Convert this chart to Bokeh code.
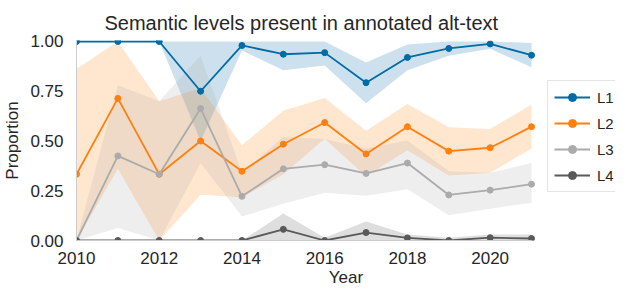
from bokeh.plotting import figure
from bokeh.models import FixedTicker, PrintfTickFormatter, Legend, LegendItem, ColumnDataSource, Range1d
from bokeh.embed import file_html
from bokeh.resources import INLINE

years = [2010, 2011, 2012, 2013, 2014, 2015, 2016, 2017, 2018, 2019, 2020, 2021]

l1 = [1.0, 1.0, 1.0, 0.75, 0.98, 0.936, 0.944, 0.793, 0.92, 0.965, 0.988, 0.931]
l1_lo = [1.0, 1.0, 1.0, 0.5, 0.955, 0.855, 0.88, 0.69, 0.855, 0.928, 0.964, 0.87]
l1_hi = [1.0, 1.0, 1.0, 1.0, 1.0, 1.0, 1.0, 0.895, 0.985, 1.0, 1.0, 0.993]

l2 = [0.333, 0.714, 0.333, 0.5, 0.348, 0.484, 0.593, 0.435, 0.572, 0.449, 0.466, 0.572]
l2_lo = [0.0, 0.36, 0.0, 0.23, 0.217, 0.333, 0.511, 0.323, 0.454, 0.327, 0.34, 0.462]
l2_hi = [0.863, 1.0, 0.70, 0.765, 0.479, 0.652, 0.716, 0.552, 0.686, 0.569, 0.56, 0.683]

l3 = [0.0, 0.425, 0.333, 0.663, 0.222, 0.36, 0.381, 0.337, 0.389, 0.229, 0.253, 0.283]
l3_lo = [0.0, 0.063, 0.0, 0.39, 0.12, 0.185, 0.24, 0.225, 0.258, 0.127, 0.16, 0.19]
l3_hi = [0.0, 0.78, 0.70, 0.93, 0.34, 0.52, 0.51, 0.462, 0.503, 0.348, 0.34, 0.389]

l4 = [0.0, 0.0, 0.0, 0.0, 0.0, 0.056, 0.0, 0.04, 0.013, 0.0, 0.014, 0.01]
l4_lo = [0.0, 0.0, 0.0, 0.0, 0.0, 0.0, 0.0, 0.0, 0.0, 0.0, 0.0, 0.0]
l4_hi = [0.0, 0.0, 0.0, 0.0, 0.0, 0.136, 0.014, 0.095, 0.03, 0.014, 0.03, 0.03]

names = ["L1", "L2", "L3", "L4"]
colors = ["#006BA4", "#FF800E", "#ABABAB", "#595959"]
x_ticks = [2010, 2012, 2014, 2016, 2018, 2020]
y_ticks = [0.0, 0.25, 0.5, 0.75, 1.0]

FONT = "Liberation Sans"
TXT = "#262626"

p = figure(width=615, height=290, output_backend="svg", toolbar_location=None,
           x_range=Range1d(2010, 2023.03), y_range=Range1d(0, 1.005),
           min_border_left=69, min_border_right=0, min_border_top=40, min_border_bottom=50)
p.title.text = "Semantic levels present in annotated alt-text"
p.title.align = "left"
p.title.offset = 28
p.title.standoff = 14
p.title.text_font = FONT
p.title.text_font_size = "20px"
p.title.text_font_style = "normal"
p.title.text_color = TXT
p.outline_line_color = None
p.xgrid.visible = False
p.ygrid.visible = False

series = [(l1, l1_lo, l1_hi), (l2, l2_lo, l2_hi), (l3, l3_lo, l3_hi), (l4, l4_lo, l4_hi)]
items = []
for name, col, (v, lo, hi) in zip(names, colors, series):
    src = ColumnDataSource(dict(x=years, y=v, lo=lo, hi=hi))
    p.varea(x="x", y1="lo", y2="hi", source=src, fill_color=col, fill_alpha=0.2)
for name, col, (v, lo, hi) in zip(names, colors, series):
    src = ColumnDataSource(dict(x=years, y=v))
    r1 = p.line(x="x", y="y", source=src, line_color=col, line_width=1.8)
    r2 = p.scatter(x="x", y="y", source=src, size=6, fill_color=col, line_color=col)
    items.append(LegendItem(label=name, renderers=[r1, r2]))

legend = Legend(items=items, location=(471, 48))
legend.label_text_font = FONT
legend.label_text_font_size = "15px"
legend.label_text_color = TXT
legend.glyph_width = 36
legend.glyph_height = 20
legend.label_height = 20
legend.spacing = 6
legend.padding = 6
legend.margin = 0
legend.border_line_color = "#cccccc"
legend.label_standoff = 7
p.add_layout(legend)

for ax in (p.xaxis, p.yaxis):
    ax.axis_line_color = "#cccccc"
    ax.major_tick_line_color = None
    ax.minor_tick_line_color = None
    ax.major_label_text_font = FONT
    ax.major_label_text_font_size = "17px"
    ax.major_label_text_color = TXT
    ax.axis_label_text_font = FONT
    ax.axis_label_text_font_size = "17px"
    ax.axis_label_text_font_style = "normal"
    ax.axis_label_text_color = TXT

p.xaxis.bounds = (2010, 2021)
p.xaxis.ticker = FixedTicker(ticks=x_ticks)
p.yaxis.ticker = FixedTicker(ticks=y_ticks)
p.yaxis.formatter = PrintfTickFormatter(format="%.2f")
p.xaxis.axis_label = "Year"
p.yaxis.axis_label = "Proportion"
p.xaxis.major_label_standoff = 5
p.yaxis.major_label_standoff = 7
p.xaxis.axis_label_standoff = 1
p.yaxis.axis_label_standoff = 5

open("out.html", "w").write(file_html(p, INLINE))
